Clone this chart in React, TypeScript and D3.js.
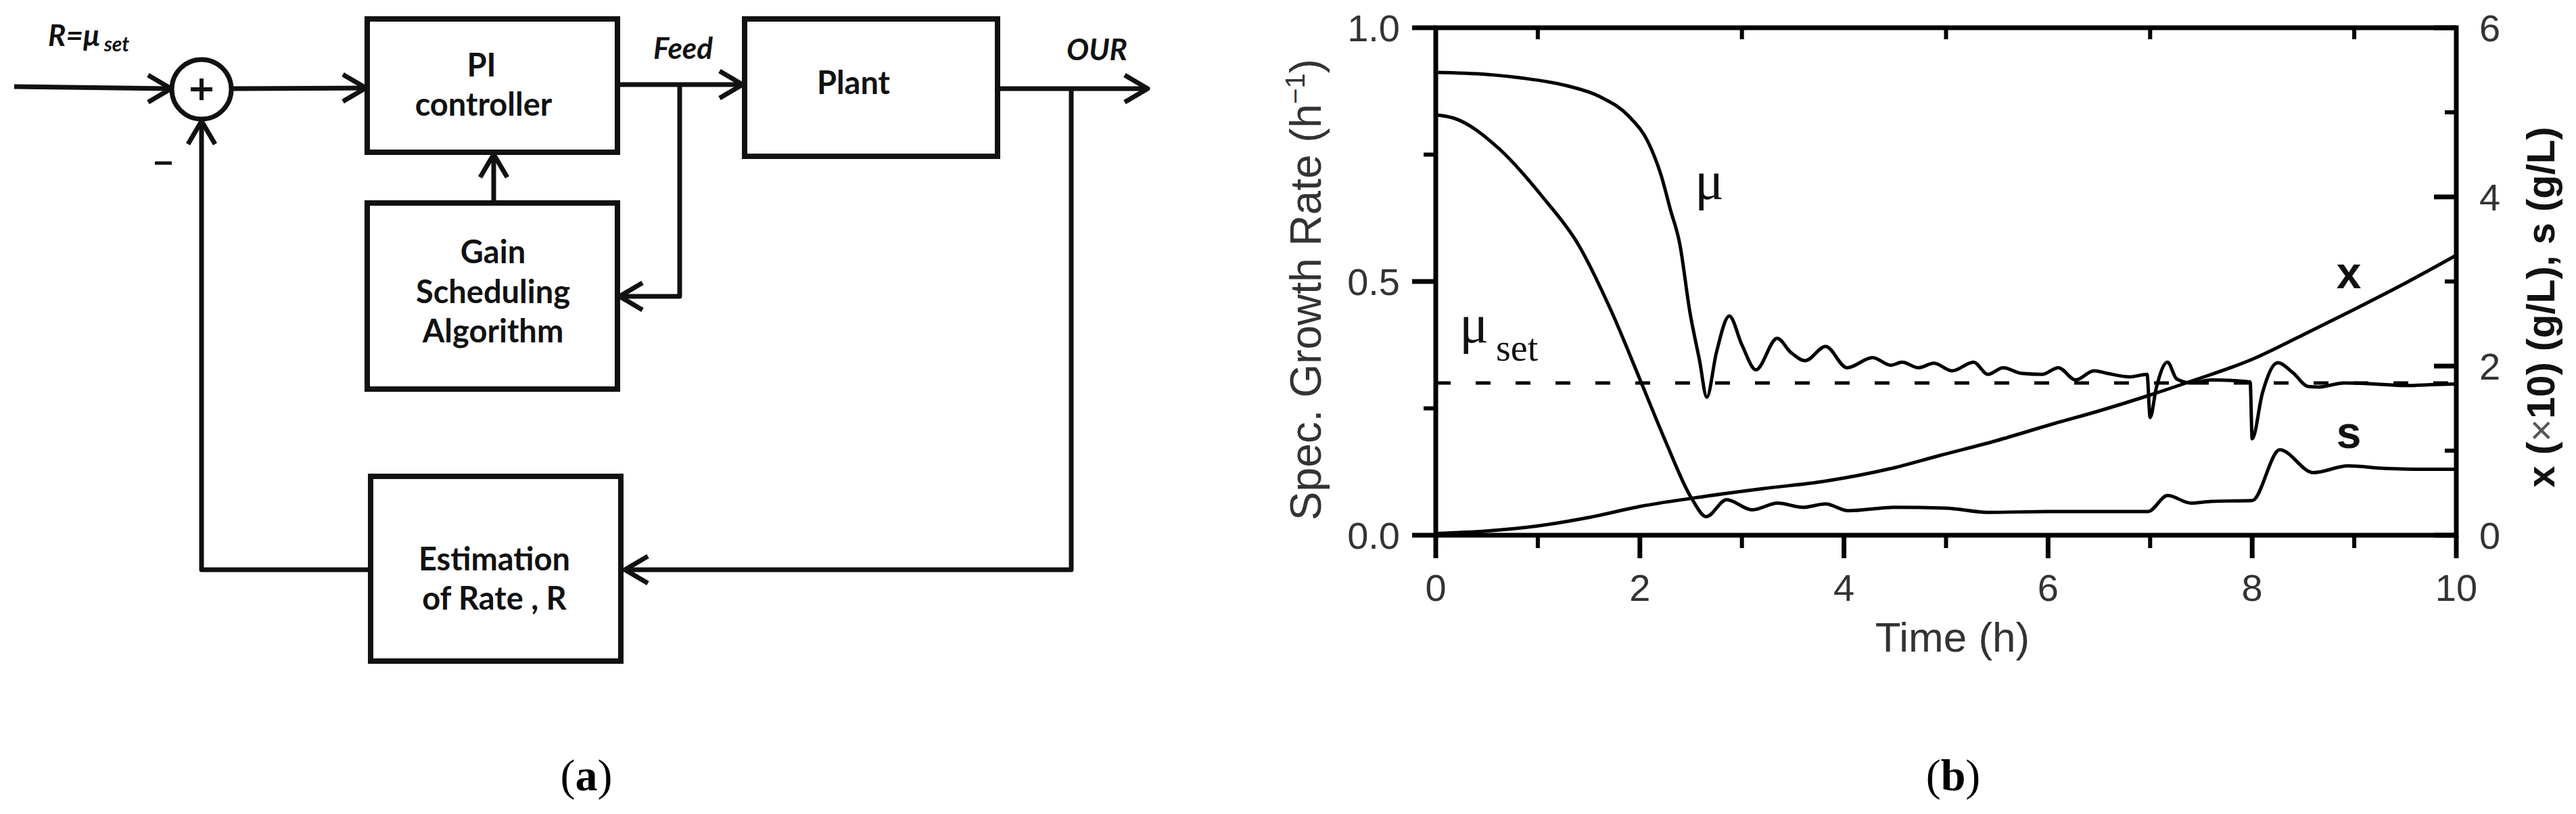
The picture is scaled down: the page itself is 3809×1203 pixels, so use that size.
import * as React from "react"
import * as d3 from "d3"

// axis ticks
const timeTicks = [0, 2, 4, 6, 8, 10]
const timeMinorTicks = [1, 3, 5, 7, 9]
const rateTicks = [0, 0.5, 1.0]
const rateMinorTicks = [0.25, 0.75]
const concTicks = [0, 2, 4, 6]
const concMinorTicks = [1, 3, 5]

// set point of the specific growth rate (h^-1)
const muSet = 0.3

// specific growth rate mu (h^-1), left axis
const muTime = [0, 0.5, 0.84, 1.28, 1.61, 1.9, 2.08, 2.21, 2.3, 2.39, 2.49, 2.585, 2.656, 2.75, 2.876, 3.0, 3.137, 3.345, 3.48, 3.62, 3.82, 4.03, 4.28, 4.46, 4.57, 4.73, 4.88, 5.06, 5.27, 5.41, 5.56, 5.74, 5.94, 6.1, 6.27, 6.45, 6.58, 6.8, 6.97, 7.0, 7.06, 7.17, 7.26, 7.4, 7.6, 7.8, 7.98, 8.0, 8.1, 8.25, 8.4, 8.55, 8.65, 8.9, 9.2, 9.5, 9.8, 10]
const muValues = [0.912, 0.908, 0.901, 0.886, 0.864, 0.824, 0.775, 0.708, 0.641, 0.575, 0.44, 0.344, 0.272, 0.36, 0.432, 0.375, 0.326, 0.388, 0.36, 0.344, 0.372, 0.33, 0.35, 0.335, 0.341, 0.33, 0.339, 0.324, 0.341, 0.317, 0.33, 0.319, 0.317, 0.33, 0.306, 0.324, 0.319, 0.312, 0.317, 0.232, 0.29, 0.341, 0.308, 0.3, 0.306, 0.305, 0.302, 0.19, 0.28, 0.34, 0.32, 0.293, 0.292, 0.3, 0.298, 0.295, 0.297, 0.298]

// substrate s (g/L), right axis
const sTime = [0, 0.18, 0.62, 1.06, 1.39, 1.72, 2.015, 2.255, 2.51, 2.65, 2.85, 3.1, 3.35, 3.6, 3.82, 4.04, 4.5, 5, 5.41, 6, 6.5, 6.98, 7.17, 7.4, 7.6, 8.0, 8.27, 8.6, 8.94, 9.3, 9.7, 10]
const sValues = [4.97, 4.93, 4.57, 3.98, 3.45, 2.65, 1.8, 1.1, 0.43, 0.22, 0.42, 0.3, 0.38, 0.33, 0.37, 0.29, 0.33, 0.32, 0.27, 0.28, 0.28, 0.28, 0.47, 0.38, 0.4, 0.41, 1.01, 0.74, 0.82, 0.79, 0.78, 0.78]

// biomass x (x10 g/L), right axis
const xTime = [0, 0.5, 1, 1.5, 2, 2.64, 3.2, 3.82, 4.5, 4.93, 5.5, 6.03, 6.5, 6.98, 7.4, 8, 8.5, 9, 9.5, 10]
const xValues = [0.02, 0.05, 0.11, 0.21, 0.34, 0.46, 0.55, 0.64, 0.8, 0.94, 1.12, 1.31, 1.47, 1.65, 1.82, 2.08, 2.37, 2.67, 2.98, 3.31]

const chartFont = "'Liberation Sans', Arial, sans-serif"
const boxFont = "Lato, 'Open Sans', sans-serif"
const serifFont = "'Liberation Serif', 'Times New Roman', serif"
const ink = "#111"
const labelGray = "#333"

function arrowHead(tx, ty, dir) {
    const len = 34
    const half = 20
    if (dir === "right") return `M${tx - len},${ty - half}L${tx},${ty}L${tx - len},${ty + half}`
    if (dir === "left") return `M${tx + len},${ty - half}L${tx},${ty}L${tx + len},${ty + half}`
    return `M${tx - half},${ty + len}L${tx},${ty}L${tx + half},${ty + len}`
}

function BlockDiagram() {
    const box = { fill: "none", stroke: ink, strokeWidth: 8 }
    const wire = { fill: "none", stroke: ink, strokeWidth: 7, strokeLinejoin: "round" as const }
    const txt = { fontFamily: boxFont, fontWeight: 700, fontSize: 47, fill: ink, textAnchor: "middle" as const }
    const ital = { fontFamily: boxFont, fontWeight: 700, fontStyle: "italic", fontSize: 44, fill: ink }
    return (
        <g>
            {/* input to summing junction */}
            <path d="M21,128L252,131" {...wire} />
            <path d={arrowHead(253, 131, "right")} {...wire} />
            <circle cx={298} cy={132} r={44} fill="none" stroke={ink} strokeWidth={7} />
            <path d="M298,116V148M282,132H314" stroke={ink} strokeWidth={6} />
            <text x={71} y={68} {...ital}>R=μ<tspan fontSize={30} dx={6} dy={8}>set</tspan></text>
            <path d="M229,241H254" stroke={ink} strokeWidth={5} />

            {/* summing junction to PI controller */}
            <path d="M342,131L541,130" {...wire} />
            <path d={arrowHead(541, 130, "right")} {...wire} />
            <rect x={543} y={28} width={370} height={197} {...box} />
            <text x={712} y={113} {...txt}>PI</text>
            <text x={715} y={171} {...txt}>controller</text>

            {/* feed to plant */}
            <path d="M913,125L1098,125" {...wire} />
            <path d={arrowHead(1098, 125, "right")} {...wire} />
            <text x={1010} y={87} {...ital} textAnchor="middle">Feed</text>
            <path d="M1005,125V438H916" {...wire} />
            <path d={arrowHead(916, 438, "left")} {...wire} />

            {/* gain scheduling */}
            <rect x={543} y={300} width={370} height={275} {...box} />
            <path d="M730,300V228" {...wire} />
            <path d={arrowHead(730, 228, "up")} {...wire} />
            <text x={729} y={389} {...txt}>Gain</text>
            <text x={729} y={448} {...txt}>Scheduling</text>
            <text x={729} y={506} {...txt}>Algorithm</text>

            {/* plant and output */}
            <rect x={1101} y={28} width={374} height={203} {...box} />
            <text x={1262} y={139} {...txt}>Plant</text>
            <path d="M1475,131L1697,131" {...wire} />
            <path d={arrowHead(1697, 131, "right")} {...wire} />
            <text x={1622} y={89} {...ital} textAnchor="middle">OUR</text>

            {/* estimation feedback */}
            <path d="M1584,131V842H924" {...wire} />
            <path d={arrowHead(924, 842, "left")} {...wire} />
            <rect x={548} y={704} width={370} height={273} {...box} />
            <text x={731} y={843} {...txt}>Estimation</text>
            <text x={731} y={901} {...txt}>of Rate , R</text>
            <path d="M548,842H298V179" {...wire} />
            <path d={arrowHead(298, 179, "up")} {...wire} />

            <text x={867} y={1168} fontFamily={serifFont} fontSize={66} textAnchor="middle" fill="#000">
                (<tspan fontWeight={700}>a</tspan>)
            </text>
        </g>
    )
}

function GrowthChart() {
    const x = d3.scaleLinear().domain([0, 10]).range([2123, 3632])
    const yRate = d3.scaleLinear().domain([0, 1]).range([791, 41])
    const yConc = d3.scaleLinear().domain([0, 6]).range([791, 41])
    const [x0, x1] = x.range()
    const [yBottom, yTop] = yRate.range()

    const rateLine = d3.line().x((d) => x(d[0])).y((d) => yRate(d[1])).curve(d3.curveMonotoneX)
    const concLine = d3.line().x((d) => x(d[0])).y((d) => yConc(d[1])).curve(d3.curveMonotoneX)

    const muPts = muTime.map((t, i) => [t, muValues[i]])
    const sPts = sTime.map((t, i) => [t, sValues[i]])
    const xPts = xTime.map((t, i) => [t, xValues[i]])

    const tickText = { fontFamily: chartFont, fontSize: 56, fill: labelGray }
    const curve = { fill: "none", stroke: "#000", strokeWidth: 5, strokeLinejoin: "round" as const }

    return (
        <g>
            {/* set point */}
            <line x1={x0} x2={x1} y1={yRate(muSet)} y2={yRate(muSet)} stroke="#000" strokeWidth={5} strokeDasharray="22 37" />

            <path d={rateLine(muPts)} {...curve} />
            <path d={concLine(sPts)} {...curve} />
            <path d={concLine(xPts)} {...curve} />

            {/* frame */}
            <rect x={x0} y={yTop} width={x1 - x0} height={yBottom - yTop} fill="none" stroke="#000" strokeWidth={7} />

            {/* bottom axis */}
            {timeTicks.map((t) => (
                <g key={"bt" + t}>
                    <line x1={x(t)} x2={x(t)} y1={yBottom} y2={yBottom + 34} stroke="#000" strokeWidth={7} />
                    <text x={x(t)} y={yBottom + 97} textAnchor="middle" {...tickText}>{t}</text>
                </g>
            ))}
            {timeMinorTicks.map((t) => (
                <g key={"bm" + t}>
                    <line x1={x(t)} x2={x(t)} y1={yBottom} y2={yBottom + 19} stroke="#000" strokeWidth={6} />
                    <line x1={x(t)} x2={x(t)} y1={yTop} y2={yTop + 17} stroke="#000" strokeWidth={6} />
                </g>
            ))}
            <text x={2887} y={963} textAnchor="middle" fontFamily={chartFont} fontSize={62} fill={labelGray}>Time (h)</text>

            {/* left axis */}
            {rateTicks.map((v) => (
                <g key={"lt" + v}>
                    <line x1={x0 - 35} x2={x0} y1={yRate(v)} y2={yRate(v)} stroke="#000" strokeWidth={7} />
                    <text x={x0 - 53} y={yRate(v) + 20} textAnchor="end" {...tickText}>{d3.format(".1f")(v)}</text>
                </g>
            ))}
            {rateMinorTicks.map((v) => (
                <line key={"lm" + v} x1={x0 - 18} x2={x0} y1={yRate(v)} y2={yRate(v)} stroke="#000" strokeWidth={6} />
            ))}
            <text transform="translate(1953,428) rotate(-90)" textAnchor="middle" fontFamily={chartFont} fontSize={64} fill={labelGray}>
                Spec. Growth Rate (h<tspan fontSize={40} dy={-24}>−1</tspan><tspan dy={24}>)</tspan>
            </text>

            {/* right axis */}
            {concTicks.map((v) => (
                <g key={"rt" + v}>
                    <line x1={x1 - 33} x2={x1} y1={yConc(v)} y2={yConc(v)} stroke="#000" strokeWidth={7} />
                    <text x={x1 + 34} y={yConc(v) + 20} textAnchor="start" {...tickText}>{v}</text>
                </g>
            ))}
            {concMinorTicks.map((v) => (
                <line key={"rm" + v} x1={x1 - 17} x2={x1} y1={yConc(v)} y2={yConc(v)} stroke="#000" strokeWidth={6} />
            ))}
            <text transform="translate(3777,454) rotate(-90)" textAnchor="middle" fontFamily={chartFont} fontWeight={700} fontSize={58} fill="#111">
                x (<tspan fontWeight={400} fill="#555">×</tspan>10) (g/L), s (g/L)
            </text>

            {/* curve labels */}
            <text x={2506} y={294} fontFamily={serifFont} fontSize={80} fill="#111">μ</text>
            <text x={2158} y={506} fontFamily={serifFont} fontSize={80} fill="#111">μ</text>
            <text x={2212} y={533} fontFamily={serifFont} fontSize={56} fill="#111">set</text>
            <text x={3473} y={426} textAnchor="middle" fontFamily={chartFont} fontWeight={700} fontSize={66} fill="#111">x</text>
            <text x={3473} y={662} textAnchor="middle" fontFamily={chartFont} fontWeight={700} fontSize={66} fill="#111">s</text>

            <text x={2888} y={1168} fontFamily={serifFont} fontSize={66} textAnchor="middle" fill="#000">
                (<tspan fontWeight={700}>b</tspan>)
            </text>
        </g>
    )
}

export default function App() {
    return (
        <svg width={3809} height={1203} style={{ position: "absolute", left: 0, top: 0, background: "#fff" }}>
            <rect width={3809} height={1203} fill="#fff" />
            <BlockDiagram />
            <GrowthChart />
        </svg>
    )
}
